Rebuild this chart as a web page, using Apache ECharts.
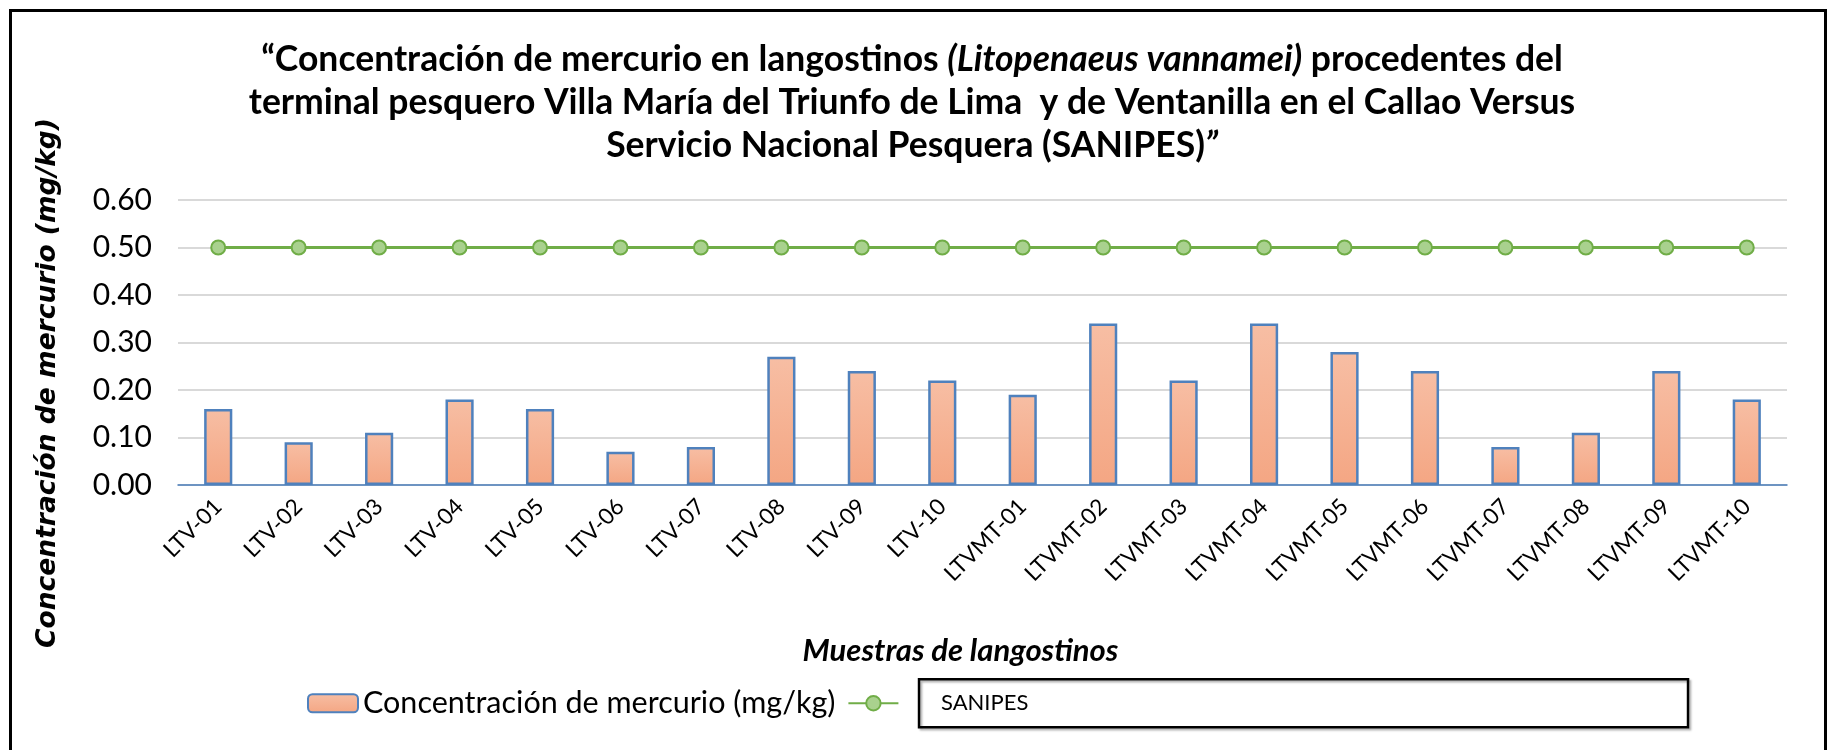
<!DOCTYPE html>
<html>
<head>
<meta charset="utf-8">
<script src="https://cdn.jsdelivr.net/npm/echarts@6/dist/echarts.min.js"></script>
<style>html,body{margin:0;padding:0;background:#fff}#c{width:1836px;height:750px}</style>
</head>
<body>
<div id="c"></div>
<script>
const categories = ['LTV-01','LTV-02','LTV-03','LTV-04','LTV-05','LTV-06','LTV-07','LTV-08','LTV-09','LTV-10',
  'LTVMT-01','LTVMT-02','LTVMT-03','LTVMT-04','LTVMT-05','LTVMT-06','LTVMT-07','LTVMT-08','LTVMT-09','LTVMT-10'];
const mercurio = [0.16,0.09,0.11,0.18,0.16,0.07,0.08,0.27,0.24,0.22,0.19,0.34,0.22,0.34,0.28,0.24,0.08,0.11,0.24,0.18];
const sanipes = [0.50,0.50,0.50,0.50,0.50,0.50,0.50,0.50,0.50,0.50,0.50,0.50,0.50,0.50,0.50,0.50,0.50,0.50,0.50,0.50];
const seriesNames = ['Concentración de mercurio (mg/kg)', 'SANIPES'];
const yAxisTitle = 'Concentración de mercurio (mg/kg)';

const FONT = 'Lato';
const chart = echarts.init(document.getElementById('c'));
chart.setOption({
  backgroundColor: '#fff',
  animation: false,
  graphic: [{
    type: 'rect', left: 8, top: 8, z: 100,
    shape: { width: 1815, height: 760 },
    style: { fill: 'none', stroke: '#000', lineWidth: 3 }
  }, {
    type: 'text', x: 48, y: 383, rotation: Math.PI / 2, z: 50,
    style: { text: yAxisTitle, fontFamily: 'DejaVu Sans', fontWeight: 'bold', fontStyle: 'italic',
             fontSize: 26.5, fill: '#000', align: 'center', verticalAlign: 'middle' }
  }],
  title: {
    text: '“Concentración de mercurio en langostinos {i|(Litopenaeus vannamei)} procedentes del\nterminal pesquero Villa María del Triunfo de Lima  y de Ventanilla en el Callao Versus\nServicio Nacional Pesquera (SANIPES){i|”}',
    left: 907, textAlign: 'center', top: 33,
    textStyle: {
      fontFamily: FONT, fontWeight: 'bold', fontSize: 35.5, color: '#000', lineHeight: 43,
      rich: { i: { fontFamily: FONT, fontWeight: 'bold', fontStyle: 'italic', fontSize: 35.5, color: '#000', lineHeight: 43 } }
    }
  },
  legend: {
    left: 302, top: 673,
    itemWidth: 50, itemHeight: 18, itemGap: 12,
    data: seriesNames,
    textStyle: {
      fontFamily: FONT, fontSize: 30.5, color: '#000',
      rich: {
        box: { fontFamily: FONT, fontSize: 22, color: '#000', width: 727, height: 24,
               padding: [12, 20, 12, 22], borderColor: '#000', borderWidth: 2.5,
               shadowColor: 'rgba(0,0,0,0.3)', shadowOffsetX: 2, shadowOffsetY: 2, shadowBlur: 2 }
      }
    },
    formatter: function (n) { return n === 'SANIPES' ? '  {box|' + n + '}' : n; }
  },
  grid: { left: 178, right: 49, top: 200, bottom: 265, containLabel: false },
  xAxis: {
    type: 'category', data: categories,
    name: 'Muestras de langostinos', nameLocation: 'middle', nameGap: 150,
    nameTextStyle: { fontFamily: FONT, fontWeight: 'bold', fontStyle: 'italic', fontSize: 31, color: '#000', padding: [0, 44, 0, 0] },
    axisLine: { lineStyle: { color: '#4a7ebb', width: 1.5 } },
    axisTick: { show: false },
    axisLabel: { rotate: 45, fontFamily: FONT, fontSize: 22.5, color: '#000', margin: 18, interval: 0 }
  },
  yAxis: {
    type: 'value', min: 0, max: 0.6, interval: 0.1,
    axisLine: { show: false },
    axisTick: { show: false },
    axisLabel: { fontFamily: FONT, fontSize: 30, color: '#000', margin: 26, formatter: v => v.toFixed(2) },
    splitLine: { lineStyle: { color: '#d9d9d9', width: 2 } }
  },
  series: [
    {
      name: seriesNames[0], type: 'bar', data: mercurio, barWidth: '35%',
      itemStyle: {
        color: new echarts.graphic.LinearGradient(0, 0, 0, 1, [
          { offset: 0, color: '#f7bea4' }, { offset: 1, color: '#f4a683' }
        ]),
        borderColor: '#4f81bd', borderWidth: 2.5
      }
    },
    {
      name: seriesNames[1], type: 'line', data: sanipes,
      symbol: 'circle', symbolSize: 14,
      lineStyle: { color: '#70ad47', width: 3 },
      itemStyle: { color: '#a9d18e', borderColor: '#70ad47', borderWidth: 2 }
    }
  ]
});
</script>
</body>
</html>
